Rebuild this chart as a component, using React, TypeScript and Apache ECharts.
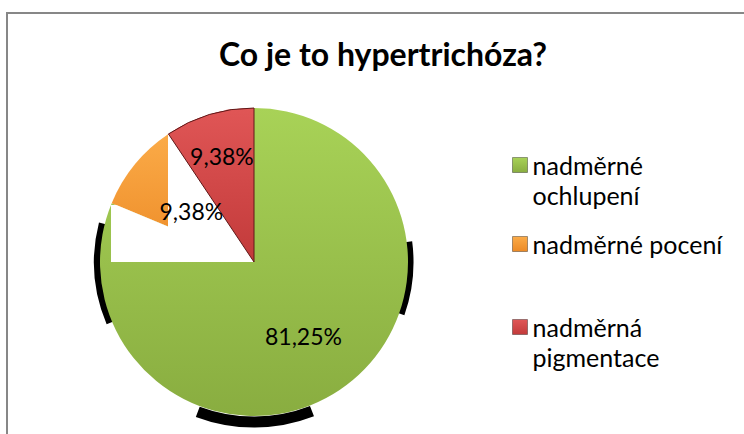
import React, { useEffect, useRef } from "react";
import * as echarts from "echarts";

const TITLE = "Co je to hypertrichóza?";
const categories = ["nadměrné ochlupení", "nadměrné pocení", "nadměrná pigmentace"];
const values = [81.25, 9.38, 9.38];
const legendTwoLine = [true, false, true];

const FONT = "Lato, 'Noto Sans', sans-serif";
const CX = 254;
const CY = 262;
const R = 154;

const sliceColors = [
  new echarts.graphic.LinearGradient(0, 0, 0, 1, [
    { offset: 0, color: "#a8d257" },
    { offset: 1, color: "#89ad40" },
  ]),
  new echarts.graphic.LinearGradient(0, 0, 0, 1, [
    { offset: 0, color: "#fbab48" },
    { offset: 1, color: "#ec8a26" },
  ]),
  new echarts.graphic.LinearGradient(0, 0, 0, 1, [
    { offset: 0, color: "#e05656" },
    { offset: 1, color: "#c23a3a" },
  ]),
];

const fmtPct = (v: number) => v.toFixed(2).replace(".", ",") + "%";

export default function App() {
  const ref = useRef<HTMLDivElement>(null);
  useEffect(() => {
    const chart = echarts.init(ref.current!, null, { renderer: "svg" });

    const baseData = categories.map((name, i) => ({
      name,
      value: values[i],
      itemStyle: { color: sliceColors[i] },
    }));

    // label overlay series: each shows one label at its own radius
    const labelRadius = [172, 156, 215];
    const labelSeries = categories.map((_, k) => ({
      type: "pie",
      z: 5,
      silent: true,
      center: [CX, CY],
      radius: [0, labelRadius[k]],
      startAngle: 90,
      data: categories.map((name, i) => ({
        name,
        value: values[i],
        itemStyle: { color: "rgba(0,0,0,0)" },
        label: { show: i === k },
      })),
      label: {
        position: "inside",
        formatter: (p: any) => fmtPct(p.value),
        color: "#000",
        fontFamily: FONT,
        fontSize: 23,
      },
      labelLine: { show: false },
      emphasis: { disabled: true },
    }));

    // white patch artifact (geometry derived from pie center/radius)
    const lowerEdgeAngle = (292.5 * Math.PI) / 180;
    const dx = Math.sin(lowerEdgeAngle);
    const dy = -Math.cos(lowerEdgeAngle);
    const rectTop = 205;
    const rectLeft = 111;
    const stripX = 168;
    const tA = (rectTop - CY) / dy;
    const tB = (stripX - CX) / dx;
    const topAtStrip = CY - Math.sqrt(R * R - (CX - stripX) * (CX - stripX));
    const whitePts = [
      [rectLeft, rectTop],
      [CX + dx * tA, rectTop],
      [stripX, CY + dy * tB],
      [stripX, topAtStrip],
      [CX, topAtStrip],
      [CX, CY],
      [rectLeft, CY],
    ];

    const legends = categories.map((name, i) => {
      const iconTop = [157.5, 236.5, 319.5][i];
      return {
        orient: "vertical",
        left: 512,
        top: iconTop - (legendTwoLine[i] ? 45 : 15) + 7.5,
        padding: 0,
        itemWidth: 15,
        itemHeight: 15,
        icon: "rect",
        selectedMode: false,
        data: [name],
        formatter: (n: string) => (legendTwoLine[i] ? "\n" + n.replace(" ", "\n") : n),
        textStyle: {
          fontFamily: FONT,
          fontSize: 25,
          color: "#000",
          lineHeight: 30,
        },
        itemStyle: { borderColor: "rgba(0,0,0,0.35)", borderWidth: 1 },
      };
    });

    chart.setOption({
      animation: false,
      backgroundColor: "#fff",
      title: {
        text: TITLE,
        left: 219,
        top: 37,
        padding: 0,
        textStyle: { fontFamily: FONT, fontWeight: "bold", fontSize: 32, color: "#000" },
      },
      legend: legends,
      graphic: [
        {
          type: "rect",
          z: 0,
          silent: true,
          shape: { x: 7, y: 13, width: 800, height: 500 },
          style: { fill: "none", stroke: "#878787", lineWidth: 2 },
        },
        {
          type: "arc",
          z: 1,
          silent: true,
          shape: { cx: CX, cy: CY, r: 156, startAngle: Math.PI - 0.4, endAngle: Math.PI + 0.25 },
          style: { stroke: "#000", lineWidth: 8, fill: "none" },
        },
        {
          type: "arc",
          z: 1,
          silent: true,
          shape: { cx: CX, cy: CY, r: 155, startAngle: -0.13, endAngle: 0.34 },
          style: { stroke: "#000", lineWidth: 9, fill: "none" },
        },
        {
          type: "arc",
          z: 1,
          silent: true,
          shape: { cx: CX, cy: CY, r: 160, startAngle: 1.2, endAngle: 1.93 },
          style: { stroke: "#000", lineWidth: 11, fill: "none" },
        },
        {
          type: "polygon",
          z: 3,
          silent: true,
          shape: { points: whitePts },
          style: { fill: "#fff" },
        },
      ],
      series: [
        {
          type: "pie",
          z: 2,
          center: [CX, CY],
          radius: [0, R],
          startAngle: 90,
          data: baseData,
          label: { show: false },
          labelLine: { show: false },
          emphasis: { disabled: true },
        },
        {
          type: "pie",
          z: 4,
          silent: true,
          center: [CX, CY],
          radius: [0, R],
          startAngle: 90,
          data: categories.map((name, i) => ({
            name,
            value: values[i],
            itemStyle:
              i === 2
                ? { color: sliceColors[i], borderColor: "#5e1818", borderWidth: 1 }
                : { color: "rgba(0,0,0,0)" },
          })),
          label: { show: false },
          labelLine: { show: false },
          emphasis: { disabled: true },
        },
        ...labelSeries,
      ],
    });
    return () => chart.dispose();
  }, []);
  return (
    <div
      ref={ref}
      style={{ position: "fixed", left: 0, top: 0, width: 744, height: 434 }}
    />
  );
}
